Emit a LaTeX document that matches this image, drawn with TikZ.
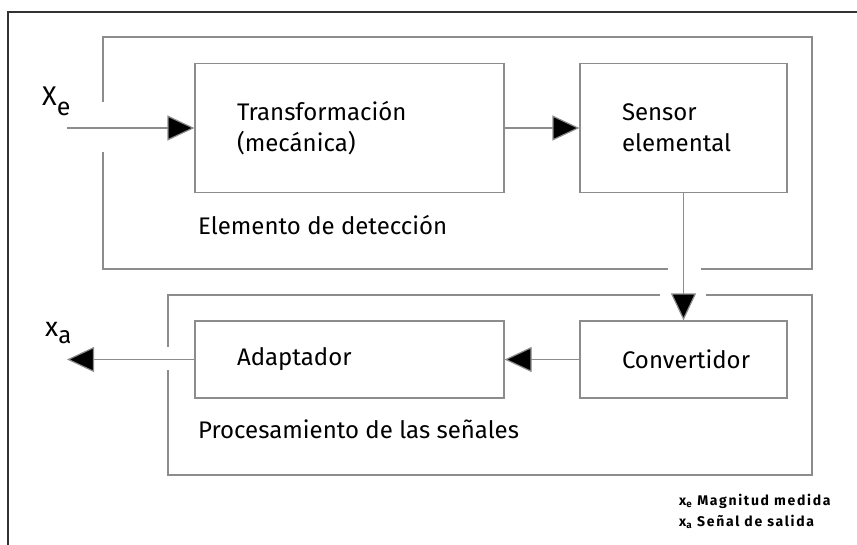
\documentclass[tikz,border=0pt]{standalone}
\usepackage{fontspec}
\setmainfont{Fira Sans}
\usetikzlibrary{arrows.meta}
\definecolor{linegray}{gray}{0.55}
\definecolor{framegray}{gray}{0.2}
\tikzset{
  blk/.style={draw=linegray, line width=1.2pt, align=left, inner xsep=42pt,
    inner ysep=0pt, font=\fontsize{24}{31}\selectfont},
  grp/.style={draw=linegray, line width=1.2pt},
  sig/.style={draw=linegray, line width=1.2pt,
    -{Triangle[length=27pt,width=25pt,fill=black]}},
  lbl/.style={anchor=base west, inner sep=0pt, font=\fontsize{24}{28}\selectfont},
  leg/.style={anchor=west, inner sep=0pt,
    font=\fontsize{14}{18}\selectfont\bfseries\addfontfeatures{LetterSpace=12}}
}
\begin{document}
\begin{tikzpicture}[x=1pt,y=-1pt]
  \useasboundingbox (0,0) rectangle (857,544);
  % outer frame
  \draw[framegray, line width=1.3pt] (8,560) -- (8,12) -- (870,12);
  % group frames, open where the signals pass
  \draw[grp] (103,102) -- (103,37) -- (812,37) -- (812,269) -- (701,269);
  \draw[grp] (668,269) -- (103,269) -- (103,152);
  \draw[grp] (706,295) -- (812,295) -- (812,475) -- (168,475) -- (168,370);
  \draw[grp] (168,347) -- (168,295) -- (660,295);
  % blocks
  \node[blk, text width=225pt, minimum height=129pt] (trans) at (349.5,128)
    {Transformación\\(mecánica)};
  \node[blk, text width=123pt, minimum height=129pt] (sensor) at (683.5,128)
    {Sensor\\elemental};
  \node[blk, text width=123pt, minimum height=77pt] (conv) at (683.5,359.5)
    {Convertidor};
  \node[blk, text width=225pt, minimum height=77pt] (adapt) at (349.5,359.5)
    {Adaptador};
  \node[lbl] (detlbl) at (198,234) {Elemento de detección};
  \node[lbl] (proclbl) at (198,438) {Procesamiento de las señales};
  % signals
  \coordinate (xe) at (67,128);
  \coordinate (xa) at (67,359.5);
  \draw[sig] (xe) -- (trans.west);
  \draw[sig] (trans.east) -- (sensor.west);
  \draw[sig] (sensor.south) -- (conv.north);
  \draw[sig] (conv.west) -- (adapt.east);
  \draw[sig] (adapt.west) -- (xa);
  \node[anchor=base west, inner sep=0pt, font=\fontsize{27}{30}\selectfont]
    (xelbl) at (42,105) {X\raisebox{-10pt}{\fontsize{25}{30}\selectfont e}};
  \node[anchor=base west, inner sep=0pt, font=\fontsize{27}{30}\selectfont]
    (xalbl) at (45,336) {x\raisebox{-7pt}{\fontsize{24}{30}\selectfont a}};
  % legend
  \node[leg] (leg1) at (679,501) {x\textsubscript{e} Magnitud medida};
  \node[leg] (leg2) at (679,522) {x\textsubscript{a} Señal de salida};
\end{tikzpicture}
\end{document}
